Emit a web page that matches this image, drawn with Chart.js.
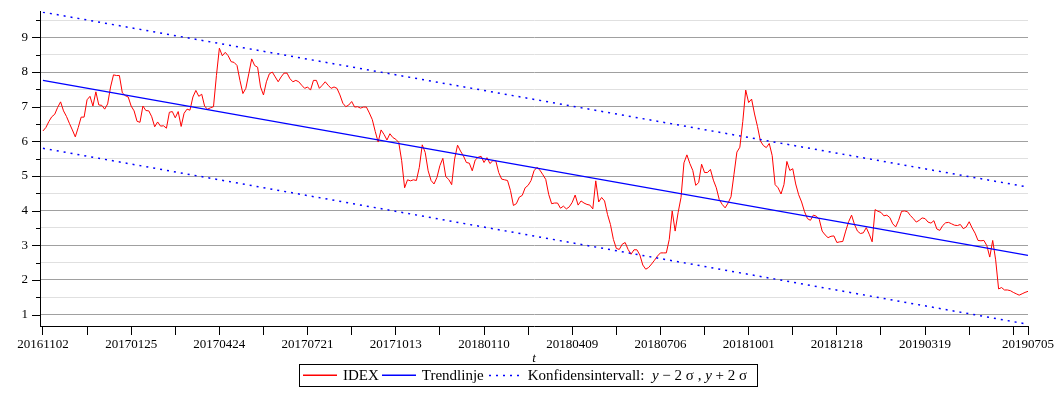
<!DOCTYPE html>
<html>
<head>
<meta charset="utf-8">
<script src="https://cdn.jsdelivr.net/npm/chart.js@4.4.1/dist/chart.umd.min.js"></script>
<style>
  html, body { margin: 0; padding: 0; background: #fff; }
  #wrap { position: relative; width: 1060px; height: 400px; }
  #legend {
    position: absolute; left: 299px; top: 364px; width: 457px; height: 21px;
    border: 1px solid #000; display: flex; align-items: center; white-space: nowrap;
    font: 15px "Liberation Serif", "Times New Roman", serif; color: #000;
  }
  #legend svg { display: block; margin: 0 6px 0 3px; }
  #legend svg.dotted { margin-left: 5px; }
</style>
</head>
<body>
<div id="wrap">
  <canvas id="idexChart" width="1060" height="400"></canvas>
  <div id="legend">
    <svg width="34" height="3"><line x1="0" y1="1.25" x2="34" y2="1.25" stroke="#ff0000" stroke-width="1.5"/></svg><span>IDEX</span>
    <svg width="34" height="3"><line x1="0" y1="1.25" x2="34" y2="1.25" stroke="#0000ff" stroke-width="1.5"/></svg><span>Trendlinje</span>
    <svg class="dotted" width="33" height="3"><line x1="0" y1="1.5" x2="33" y2="1.5" stroke="#0000ff" stroke-width="1.5" stroke-dasharray="2 5"/></svg><span>Konfidensintervall:&nbsp; <i>y</i> &minus; 2 &sigma; , <i>y</i> + 2 &sigma;</span>
  </div>
</div>
<script>
// IDEX, read every 2nd trading day from 20161102 to 20190705
const sampleStep = 2;
const idex = [
    6.30, 6.40, 6.57, 6.71, 6.78, 6.98, 7.14, 6.88, 6.72, 6.52,
    6.33, 6.13, 6.40, 6.70, 6.70, 7.20, 7.30, 7.02, 7.43, 7.05,
    7.04, 6.93, 7.08, 7.57, 7.92, 7.90, 7.90, 7.40, 7.32, 7.28,
    7.02, 6.88, 6.58, 6.55, 7.02, 6.89, 6.88, 6.71, 6.42, 6.56,
    6.44, 6.45, 6.38, 6.84, 6.86, 6.68, 6.86, 6.43, 6.81, 6.93,
    6.90, 7.28, 7.47, 7.30, 7.36, 7.01, 6.93, 6.97,
    7.00, 7.90, 8.69, 8.47, 8.57, 8.47, 8.30, 8.28, 8.19, 7.76,
    7.38, 7.53, 7.95, 8.38, 8.19, 8.14, 7.57, 7.34, 7.72, 7.95,
    8.00, 7.86, 7.72, 7.86, 7.97, 7.97, 7.81, 7.72, 7.76, 7.72,
    7.62, 7.53, 7.57, 7.48, 7.76, 7.76, 7.53, 7.62, 7.72, 7.62,
    7.53, 7.57, 7.53, 7.34, 7.10, 7.00, 7.05, 7.15, 6.99, 7.00,
    6.96, 6.99, 6.99, 6.82, 6.63, 6.29, 5.98,
    6.33, 6.20, 6.04, 6.22, 6.11, 6.06, 5.97, 5.44, 4.66, 4.89,
    4.86, 4.89, 4.87, 5.25, 5.90, 5.68, 5.15, 4.87, 4.77, 4.96,
    5.30, 5.51, 4.98, 4.90, 4.75, 5.49, 5.89, 5.72, 5.58, 5.39,
    5.37, 5.15, 5.46, 5.54, 5.57, 5.39, 5.53, 5.36, 5.44, 5.44,
    5.10, 4.91, 4.89, 4.87, 4.58, 4.15, 4.20, 4.39, 4.44, 4.66,
    4.73, 4.87, 5.15, 5.25, 5.17, 5.04,
    4.90, 4.47, 4.20, 4.22, 4.22, 4.07, 4.13, 4.05, 4.11, 4.24,
    4.45, 4.16, 4.28, 4.22, 4.18, 4.16, 4.05, 4.86, 4.25, 4.38,
    4.28, 3.89, 3.60, 3.17, 2.91, 2.88, 3.03, 3.08, 2.88, 2.74,
    2.87, 2.87, 2.72, 2.43, 2.31, 2.36, 2.46, 2.57, 2.69, 2.78,
    2.78, 2.78, 3.17, 3.99, 3.41, 3.94, 4.38, 5.38, 5.61, 5.36,
    5.16, 4.73, 4.81, 5.34, 5.10, 5.10,
    5.19, 4.88, 4.66, 4.32, 4.18, 4.08, 4.22, 4.40, 5.04, 5.69,
    5.83, 6.57, 7.48, 7.12, 7.22, 6.79, 6.43, 6.01, 5.88, 5.82,
    5.94, 5.59, 4.75, 4.66, 4.48, 4.75, 5.42, 5.16, 5.21, 4.77,
    4.46, 4.25, 3.97, 3.77, 3.72, 3.87, 3.84, 3.75, 3.41, 3.30,
    3.22, 3.26, 3.27, 3.08, 3.10, 3.11, 3.41, 3.68, 3.87, 3.60,
    3.41, 3.34, 3.36, 3.51, 3.32,
    3.10, 4.03, 3.98, 3.95, 3.85, 3.87, 3.80, 3.62, 3.53, 3.72,
    3.98, 3.99, 3.97, 3.86, 3.77, 3.67, 3.72, 3.79, 3.77, 3.67,
    3.64, 3.71, 3.47, 3.43, 3.57, 3.65, 3.66, 3.62, 3.58, 3.57,
    3.60, 3.48, 3.53, 3.68, 3.50, 3.35, 3.14, 3.13, 3.14, 2.99,
    2.66, 3.14, 2.58, 1.74, 1.78, 1.71, 1.71, 1.69, 1.64, 1.60,
    1.56, 1.60, 1.64, 1.67
];

// Trend line and the 2 sigma band, end points
const lineDays = [0, 670];
const trendValues = [7.76, 2.71];
const upperValues = [9.73, 4.68];
const lowerValues = [5.80, 0.72];

// Tick labels on the day axis
const tickDays = [0, 60, 120, 180, 240, 300, 360, 420, 480, 540, 600, 670];
const tickDates = ['20161102', '20170125', '20170424', '20170721', '20171013', '20180110',
                   '20180409', '20180706', '20181001', '20181218', '20190319', '20190705'];
const xTickValues = [0, 30, 60, 90, 120, 150, 180, 210, 240, 270, 300, 330, 360, 390, 420,
                     450, 480, 510, 540, 570, 600, 630, 660, 670];
const yTickValues = [1, 1.5, 2, 2.5, 3, 3.5, 4, 4.5, 5, 5.5, 6, 6.5, 7, 7.5, 8, 8.5, 9, 9.5];

const serif = '"Liberation Serif", "Times New Roman", serif';

const idexPoints = idex.map((v, k) => ({ x: k * sampleStep, y: v }));
const toPoints = vals => vals.map((v, j) => ({ x: lineDays[j], y: v }));

// y axis tick marks: long at whole numbers, short at halves
const yTickMarks = {
    id: 'yTickMarks',
    afterDraw(chart) {
        const y = chart.scales.y;
        const ctx = chart.ctx;
        const left = chart.chartArea.left;
        ctx.save();
        ctx.strokeStyle = '#000';
        ctx.lineWidth = 1;
        y.ticks.forEach(t => {
            const py = Math.round(y.getPixelForValue(t.value)) + 0.5;
            const len = Number.isInteger(t.value) ? 8 : 4;
            ctx.beginPath();
            ctx.moveTo(left - len, py);
            ctx.lineTo(left, py);
            ctx.stroke();
        });
        ctx.restore();
    }
};

const ctx = document.getElementById('idexChart').getContext('2d');
const idexChart = new Chart(ctx, {
    type: 'line',
    data: {
        datasets: [{
            label: 'IDEX',
            data: idexPoints,
            borderColor: '#ff0000',
            borderWidth: 1,
            pointRadius: 0,
            tension: 0,
            order: 2
        },
        {
            label: 'Trendlinje',
            data: toPoints(trendValues),
            borderColor: '#0000ff',
            borderWidth: 1.3,
            pointRadius: 0,
            order: 0
        },
        {
            label: 'y + 2 sigma',
            data: toPoints(upperValues),
            borderColor: '#0000ff',
            borderWidth: 1.5,
            borderDash: [2, 5],
            pointRadius: 0,
            order: 1
        },
        {
            label: 'y - 2 sigma',
            data: toPoints(lowerValues),
            borderColor: '#0000ff',
            borderWidth: 1.5,
            borderDash: [2, 5],
            pointRadius: 0,
            order: 1
        }]
    },
    options: {
        responsive: false,
        animation: false,
        devicePixelRatio: 1,
        layout: { padding: { left: 0, right: 32, top: 9, bottom: 0 } },
        plugins: {
            legend: { display: false },
            tooltip: { enabled: false }
        },
        scales: {
            x: {
                type: 'linear',
                min: -2,
                max: 670,
                afterBuildTicks: s => { s.ticks = xTickValues.map(v => ({ value: v })); },
                afterFit: s => { s.height = 74; },
                grid: { drawOnChartArea: false, drawTicks: true, tickLength: 9, tickColor: '#000', tickWidth: 1 },
                border: { display: true, color: '#000', width: 1 },
                ticks: {
                    autoSkip: false,
                    maxRotation: 0,
                    padding: 2,
                    color: '#000',
                    font: { family: serif, size: 13 },
                    callback: v => {
                        const j = tickDays.indexOf(v);
                        return j >= 0 ? tickDates[j] : '';
                    }
                },
                title: {
                    display: true,
                    text: 't',
                    color: '#000',
                    font: { family: serif, size: 13, style: 'italic' },
                    padding: { top: 0, bottom: 34 }
                }
            },
            y: {
                type: 'linear',
                min: 0.67,
                max: 9.74,
                afterBuildTicks: s => { s.ticks = yTickValues.map(v => ({ value: v })); },
                afterFit: s => { s.width = 40; },
                grid: {
                    color: c => Number.isInteger(c.tick.value) ? '#a0a0a0' : '#e0e0e0',
                    tickColor: 'rgba(0,0,0,0)',
                    tickLength: 8
                },
                border: { display: true, color: '#000', width: 1 },
                ticks: {
                    autoSkip: false,
                    padding: 4,
                    color: '#000',
                    font: { family: serif, size: 13 },
                    callback: v => Number.isInteger(v) ? String(v) : ''
                }
            }
        }
    },
    plugins: [yTickMarks]
});
</script>
</body>
</html>
